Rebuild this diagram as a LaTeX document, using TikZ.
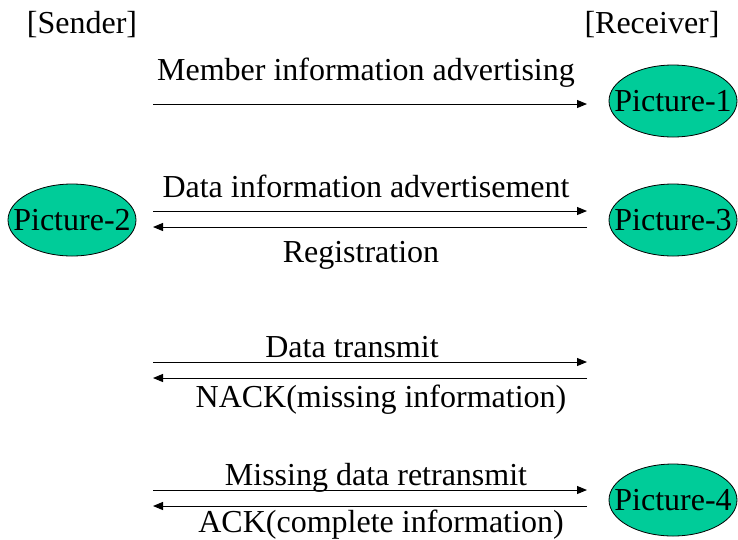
\documentclass[tikz,border=0pt]{standalone}
\usepackage{fontspec}
\setmainfont{Liberation Serif}
\usetikzlibrary{arrows.meta,shapes.geometric}
\definecolor{picgreen}{RGB}{0,204,153}
\tikzset{
  txt/.style={font=\fontsize{32}{32}\selectfont},
  pic/.style={ellipse,draw=black,line width=0.8pt,fill=picgreen,minimum width=128pt,minimum height=72pt,inner sep=0pt},
  piclabel/.style={txt,inner sep=0pt},
  lbl/.style={txt,anchor=base,inner sep=0pt},
  msg/.style={line width=1pt,-{Triangle[length=10pt,width=8pt]}}
}
\begin{document}
\begin{tikzpicture}[x=1pt,y=-1pt]
\useasboundingbox (0,0) rectangle (738,539);
\node[lbl] (sender) at (82,33) {[Sender]};
\node[lbl] (receiver) at (652,33) {[Receiver]};
\node[pic] (p1) at (673,101) {};
\node[pic] (p2) at (72,220) {};
\node[pic] (p3) at (673,220) {};
\node[pic] (p4) at (673,500) {};
\node[piclabel] (t1) at (p1) {Picture-1};
\node[piclabel] (t2) at (p2) {Picture-2};
\node[piclabel] (t3) at (p3) {Picture-3};
\node[piclabel] (t4) at (p4) {Picture-4};
\coordinate (s1) at (153,104); \coordinate (r1) at (587,104);
\coordinate (s2a) at (153,211); \coordinate (r2a) at (587,211);
\coordinate (s2b) at (153,227); \coordinate (r2b) at (587,227);
\coordinate (s3a) at (153,362); \coordinate (r3a) at (587,362);
\coordinate (s3b) at (153,378); \coordinate (r3b) at (587,378);
\coordinate (s4a) at (153,490); \coordinate (r4a) at (587,490);
\coordinate (s4b) at (153,506); \coordinate (r4b) at (587,506);
\draw[msg] (s1) -- (r1);
\draw[msg] (s2a) -- (r2a);
\draw[msg] (r2b) -- (s2b);
\draw[msg] (s3a) -- (r3a);
\draw[msg] (r3b) -- (s3b);
\draw[msg] (s4a) -- (r4a);
\draw[msg] (r4b) -- (s4b);
\node[lbl] (m1) at (366,80) {Member information advertising};
\node[lbl] (m2) at (366,197) {Data information advertisement};
\node[lbl] (m3) at (361,262) {Registration};
\node[lbl] (m4) at (352,357) {Data transmit};
\node[lbl] (m5) at (381,407) {NACK(missing information)};
\node[lbl] (m6) at (376,485) {Missing data retransmit};
\node[lbl] (m7) at (381,532) {ACK(complete information)};
\end{tikzpicture}
\end{document}
